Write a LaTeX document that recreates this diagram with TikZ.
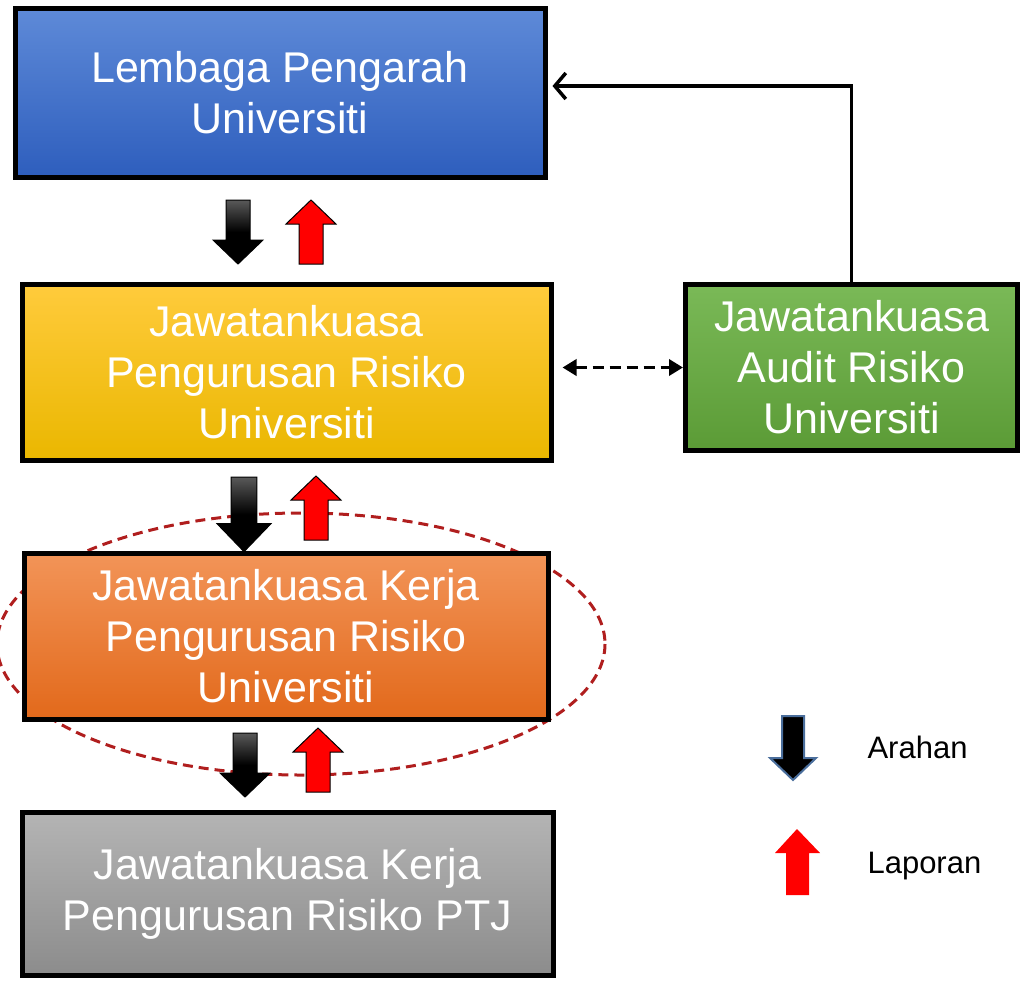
\documentclass[tikz,border=0pt]{standalone}
\usepackage{fontspec}
\setmainfont{Liberation Sans}
\usetikzlibrary{arrows.meta,calc,shadings}
\definecolor{blueT}{HTML}{5E8AD8}
\definecolor{blueB}{HTML}{2E5EBD}
\definecolor{yelT}{HTML}{FFCB3C}
\definecolor{yelB}{HTML}{EAB700}
\definecolor{grnT}{HTML}{7AB957}
\definecolor{grnB}{HTML}{5B9B36}
\definecolor{orgT}{HTML}{F29458}
\definecolor{orgB}{HTML}{E2691B}
\definecolor{gryT}{HTML}{B4B4B4}
\definecolor{gryB}{HTML}{8C8C8C}
\definecolor{ellred}{HTML}{B01E1E}
\definecolor{legedge}{HTML}{4A6E9C}
\begin{document}
\begin{tikzpicture}[x=1pt,y=-1pt,
  box/.style={draw=black,line width=5pt,minimum width=#1,align=center,text=white,
    font=\fontsize{43}{51}\selectfont,inner sep=0pt},
  downarr/.pic={\path[draw=black,line width=1pt,top color=black!65,bottom color=black,middle color=black,shading angle=0]
      (-12,0) -- (12,0) -- (12,40) -- (25,40) -- (0,64) -- (-25,40) -- (-12,40) -- cycle;},
  uparr/.pic={\path[draw=black,line width=1pt,fill=red]
      (-12,64) -- (12,64) -- (12,24) -- (25,24) -- (0,0) -- (-25,24) -- (-12,24) -- cycle;}
]
\useasboundingbox (0,0) rectangle (1025,980);

% dashed ellipse behind the orange box
\draw[ellred,line width=3pt,dash pattern=on 10pt off 6pt] (301,644) ellipse [x radius=304, y radius=131];

\node[box=530pt,minimum height=169pt,top color=blueT,bottom color=blueB] (lpu) at (280,92.5)
  {Lembaga Pengarah\\Universiti};
\node[box=529pt,minimum height=176pt,top color=yelT,bottom color=yelB] (jpr) at (286.5,372)
  {Jawatankuasa\\Pengurusan Risiko\\Universiti};
\node[box=332pt,minimum height=166pt,top color=grnT,bottom color=grnB] (ajr) at (851.5,367.5)
  {Jawatankuasa\\Audit Risiko\\Universiti};
\node[box=524pt,minimum height=166pt,top color=orgT,bottom color=orgB] (jkr) at (286,636)
  {Jawatankuasa Kerja\\Pengurusan Risiko\\Universiti};
\node[box=531pt,minimum height=163pt,top color=gryT,bottom color=gryB] (jkp) at (287.5,893.5)
  {Jawatankuasa Kerja\\Pengurusan Risiko PTJ};

% connectors
\draw[line width=3.5pt,-{Straight Barb[length=11pt,width=26pt,line width=3.5pt]},shorten >=5pt]
  (ajr.north) |- ($(lpu.east)+(0,-6.5)$);
\draw[line width=3.5pt,dash pattern=on 11pt off 6pt,
  {Triangle[length=14pt,width=16pt]}-{Triangle[length=14pt,width=16pt]},shorten <=9pt]
  (ajr.west -| jpr.east) -- (ajr.west);

% direction arrows
\pic at (238,200) {downarr};
\pic at (311,200) {uparr};
\pic[scale=1.08,yscale=1.08] at (244,477) {downarr};
\pic at (316,476) {uparr};
\pic at (245,733) {downarr};
\pic at (318,728) {uparr};

% legend
\path[draw=legedge,line width=2pt,fill=black] (782,716) -- (804,716) -- (804,758) -- (816,758) -- (793,780) -- (770,758) -- (782,758) -- cycle;
\path[fill=red] (786,895) -- (809,895) -- (809,853) -- (820,853) -- (797,829) -- (775,853) -- (786,853) -- cycle;
\node[anchor=west,font=\fontsize{31}{36}\selectfont] (lar) at (864,747) {Arahan};
\node[anchor=west,font=\fontsize{31}{36}\selectfont] (llap) at (864,866) {Laporan};
\end{tikzpicture}
\end{document}
